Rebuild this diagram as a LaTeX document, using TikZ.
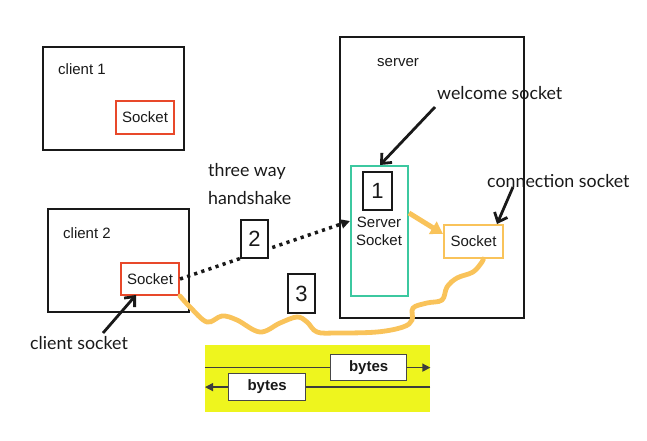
\documentclass[tikz,border=0pt]{standalone}
\usepackage{fontspec}
\setmainfont{Liberation Sans}
\newfontfamily\gill{Lato}
\usetikzlibrary{arrows.meta}
\definecolor{sockred}{RGB}{232,72,42}
\definecolor{teal2}{RGB}{60,200,160}
\definecolor{orng}{RGB}{249,195,90}
\definecolor{yel}{RGB}{238,245,30}
\definecolor{ink}{RGB}{25,25,25}
\tikzset{
  box/.style={draw=ink, line width=2pt, inner sep=0pt, anchor=north west},
  sock/.style={draw=sockred, line width=2pt, inner sep=0pt, anchor=north west, font=\fontsize{15}{18}\selectfont, text=ink},
  numbox/.style={draw=ink, line width=2.2pt, fill=white, inner sep=0pt, anchor=north west, font=\fontsize{22}{24}\selectfont, text=ink},
  lbl/.style={anchor=west, inner sep=0pt, font=\fontsize{15}{18}\selectfont, text=ink},
  hand/.style={anchor=west, inner sep=0pt, font=\gill\fontsize{17.8}{20}\selectfont, text=ink},
  pointer/.style={draw=ink, line width=2.8pt, -{Straight Barb[length=8pt, width=14pt, line width=2.8pt]}},
  bytesbox/.style={draw=ink!80, line width=1.2pt, fill=white, inner sep=0pt, anchor=north west, font=\bfseries\fontsize{15}{18}\selectfont, text=ink},
  byteline/.style={draw=ink!85, line width=1.3pt}
}
\begin{document}
\begin{tikzpicture}[x=1pt,y=-1pt]
\useasboundingbox (0,0) rectangle (647,441);
% client 1
\node[box, minimum width=141pt, minimum height=103pt] (c1) at (42,46) {};
\node[lbl] (c1l) at (58,69) {client 1};
\node[sock, minimum width=58pt, minimum height=33pt] (c1s) at (115,100) {Socket};
% client 2
\node[box, minimum width=141pt, minimum height=103pt] (c2) at (47,208) {};
\node[lbl] (c2l) at (63,233) {client 2};
\node[sock, minimum width=58pt, minimum height=32pt] (c2s) at (120,262) {Socket};
% server
\node[box, minimum width=184pt, minimum height=281pt] (srv) at (339,36) {};
\node[lbl] (srvl) at (377,63) {server};
\node[draw=teal2, line width=2pt, inner sep=0pt, anchor=north west, minimum width=57pt, minimum height=130pt] (ss) at (350,165) {};
\node[numbox, minimum width=29pt, minimum height=38pt] (n1) at (362,171) {1};
\node[align=center, inner sep=0pt, font=\fontsize{15}{18}\selectfont, text=ink] (sst) at (379,231) {Server\\Socket};
\node[draw=orng, line width=2pt, inner sep=0pt, anchor=north west, minimum width=59pt, minimum height=33pt, font=\fontsize{15}{18}\selectfont, text=ink] (cs) at (443,224) {Socket};
% labels
\node[hand] (tw) at (208,171) {three way};
\node[hand] (hs) at (208,198) {handshake};
\node[hand] (wl) at (437,93) {welcome socket};
\node[hand] (cl) at (487,181) {connection socket};
\node[hand] (csl) at (30,343) {client socket};
% pointer arrows
\coordinate (wlstart) at (435,107);
\coordinate (clstart) at (513,187);
\coordinate (cslstart) at (103,333);
\draw[pointer] (wlstart) -- (ss.north -| 380,0);
\draw[pointer] (clstart) -- (497,224);
\draw[pointer] (cslstart) -- (136,295);
% dotted handshake
\draw[ink, line width=3.5pt, dash pattern=on 3.2pt off 4.3pt, -{Triangle[length=9pt, width=9pt]}] (c2s.east) -- (ss.west |- 0,221);
% orange arrow
\draw[orng, line width=5pt, -{Triangle[length=12pt, width=14pt]}] (ss.east |- 0,213) -- (cs.west |- 0,234);
% wave
\draw[orng, line width=4.8pt, line cap=round] plot[smooth, tension=0.6] coordinates {
 (c2s.south east) (190,307) (207,322) (222,316) (237,320) (260,332) (280,323) (297,317) (307,322) (317,332) (337,333) (377,332) (403,327) (412,320) (413,308) (427,303) (442,300) (447,287) (457,278) (473,272) (482,262) (cs.south -| 483,0)};
% number boxes
\node[numbox, minimum width=27pt, minimum height=38pt] (n2) at (240,219) {2};
\node[numbox, minimum width=27pt, minimum height=39pt] (n3) at (287,273) {3};
% bytes panel
\node[fill=yel, inner sep=0pt, anchor=north west, minimum width=225pt, minimum height=67pt] (yb) at (205,345) {};
\node[bytesbox, minimum width=76pt, minimum height=26pt] (bt) at (330,354) {bytes};
\node[bytesbox, minimum width=77pt, minimum height=27pt] (bb) at (228,373) {bytes};
\draw[byteline] (yb.west |- bt) -- (bt.west);
\draw[byteline, -{Triangle[length=8pt, width=8pt]}] (bt.east) -- (yb.east |- bt);
\draw[byteline] (yb.east |- bb) -- (bb.east);
\draw[byteline, -{Triangle[length=8pt, width=8pt]}] (bb.west) -- (yb.west |- bb);
\end{tikzpicture}
\end{document}
